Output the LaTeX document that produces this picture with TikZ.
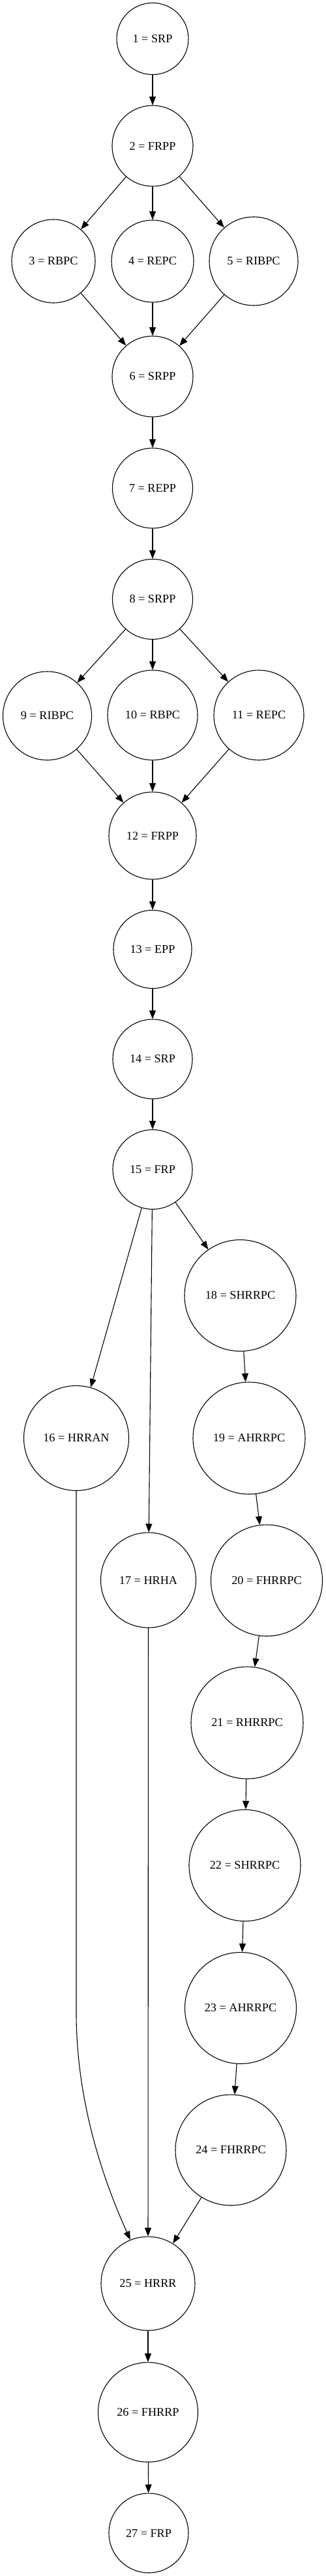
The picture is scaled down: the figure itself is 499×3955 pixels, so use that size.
\documentclass[tikz,border=0pt]{standalone}
\usepackage{fontspec}
\setmainfont{Liberation Serif}
\usetikzlibrary{arrows.meta}
\begin{document}
\begin{tikzpicture}[x=1pt,y=-1pt,
  st/.style={draw, circle, line width=1.1pt, inner sep=0pt, font=\fontsize{18.2}{22}\selectfont},
  edge/.style={line width=1.1pt, -{Triangle[length=13pt,width=10pt]}}]
\useasboundingbox (0,0) rectangle (499,3955);
\node[st, minimum size=110pt] (n1) at (234,59.5) {1 = SRP};
\node[st, minimum size=124pt] (n2) at (234,224) {2 = FRPP};
\node[st, minimum size=128pt] (n3) at (82,401) {3 = RBPC};
\node[st, minimum size=126pt] (n4) at (234,401) {4 = REPC};
\node[st, minimum size=136pt] (n5) at (389,401) {5 = RIBPC};
\node[st, minimum size=124pt] (n6) at (234,578) {6 = SRPP};
\node[st, minimum size=123pt] (n7) at (234,749.5) {7 = REPP};
\node[st, minimum size=123pt] (n8) at (234,920) {8 = SRPP};
\node[st, minimum size=136pt] (n9) at (72.5,1099) {9 = RIBPC};
\node[st, minimum size=138pt] (n10) at (234,1098) {10 = RBPC};
\node[st, minimum size=138pt] (n11) at (397,1098) {11 = REPC};
\node[st, minimum size=134pt] (n12) at (234,1283) {12 = FRPP};
\node[st, minimum size=120pt] (n13) at (234,1457.5) {13 = EPP};
\node[st, minimum size=122pt] (n14) at (234,1626) {14 = SRP};
\node[st, minimum size=122pt] (n15) at (234,1795.5) {15 = FRP};
\node[st, minimum size=161pt] (n16) at (117,2208) {16 = HRRAN};
\node[st, minimum size=146pt] (n17) at (227.5,2426) {17 = HRHA};
\node[st, minimum size=171pt] (n18) at (368.5,1989) {18 = SHRRPC};
\node[st, minimum size=172pt] (n19) at (382,2208) {19 = AHRRPC};
\node[st, minimum size=171pt] (n20) at (409,2426.5) {20 = FHRRPC};
\node[st, minimum size=172pt] (n21) at (379,2645) {21 = RHRRPC};
\node[st, minimum size=171pt] (n22) at (375.5,2864) {22 = SHRRPC};
\node[st, minimum size=171pt] (n23) at (369,3083) {23 = AHRRPC};
\node[st, minimum size=170pt] (n24) at (354,3301) {24 = FHRRPC};
\node[st, minimum size=144pt] (n25) at (227,3506) {25 = HRRR};
\node[st, minimum size=153pt] (n26) at (227,3703.5) {26 = FHRRP};
\node[st, minimum size=122pt] (n27) at (228,3889) {27 = FRP};
\coordinate (k16) at (117,3090);
\draw[edge] (n1) -- (n2);
\draw[edge] (n2) -- (n3);
\draw[edge] (n2) -- (n4);
\draw[edge] (n2) -- (n5);
\draw[edge] (n3) -- (n6);
\draw[edge] (n4) -- (n6);
\draw[edge] (n5) -- (n6);
\draw[edge] (n6) -- (n7);
\draw[edge] (n7) -- (n8);
\draw[edge] (n8) -- (n9);
\draw[edge] (n8) -- (n10);
\draw[edge] (n8) -- (n11);
\draw[edge] (n9) -- (n12);
\draw[edge] (n10) -- (n12);
\draw[edge] (n11) -- (n12);
\draw[edge] (n12) -- (n13);
\draw[edge] (n13) -- (n14);
\draw[edge] (n14) -- (n15);
\draw[edge] (n15) -- (n16);
\draw[edge] (n15) -- (n17);
\draw[edge] (n15) -- (n18);
\draw[edge] (n18) -- (n19);
\draw[edge] (n19) -- (n20);
\draw[edge] (n20) -- (n21);
\draw[edge] (n21) -- (n22);
\draw[edge] (n22) -- (n23);
\draw[edge] (n23) -- (n24);
\draw[edge] (n16) -- (k16) .. controls (117,3230) and (160,3350) .. (n25.112);
\draw[edge] (n17) -- (n25);
\draw[edge] (n24) -- (n25);
\draw[edge] (n25) -- (n26);
\draw[edge] (n26) -- (n27);
\end{tikzpicture}
\end{document}
